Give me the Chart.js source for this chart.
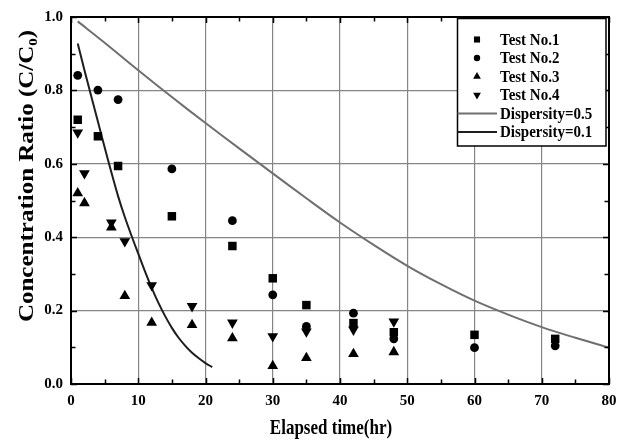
<!DOCTYPE html>
<html>
<head>
<meta charset="utf-8">
<script src="https://cdn.jsdelivr.net/npm/chart.js@4/dist/chart.umd.min.js"></script>
<style>
  html, body { margin: 0; padding: 0; background: #fff; }
  #wrap { width: 625px; height: 444px; position: relative; }
</style>
</head>
<body>
<div id="wrap"><canvas id="c"></canvas></div>
<script>
// Sampling times (hr) of the column tests
const hoursA = [1, 4, 7, 15, 24, 30, 35, 42, 48, 60, 72];
const hoursB = [1, 2, 6, 8, 12, 18, 24, 30, 35, 42, 48];

// Measured concentration ratios C/C0
const test1 = [0.720, 0.675, 0.594, 0.457, 0.376, 0.288, 0.215, 0.166, 0.141, 0.134, 0.123];
const test2 = [0.841, 0.801, 0.775, 0.586, 0.445, 0.243, 0.157, 0.193, 0.123, 0.099, 0.104];
const test3 = [0.520, 0.493, 0.427, 0.240, 0.167, 0.161, 0.125, 0.049, 0.071, 0.082, 0.087];
const test4 = [0.685, 0.574, 0.440, 0.389, 0.269, 0.212, 0.167, 0.130, 0.143, 0.148, 0.170];

// Model curves for two dispersity values
const hoursD05 = [1, 5, 10, 15, 20, 25, 30, 35, 40, 45, 50, 55, 60, 65, 70, 75, 80];
const disp05   = [0.988, 0.930, 0.855, 0.782, 0.711, 0.642, 0.574, 0.506, 0.440, 0.379, 0.322, 0.272, 0.227, 0.189, 0.155, 0.126, 0.099];
const hoursD01 = [1, 2, 3, 4, 5, 6, 7, 8, 9, 10, 11, 12, 13, 14, 15, 16, 17, 18, 19, 20, 21];
const disp01   = [0.928, 0.855, 0.785, 0.715, 0.645, 0.577, 0.512, 0.455, 0.404, 0.355, 0.307, 0.262, 0.221, 0.185, 0.153, 0.126, 0.104, 0.085, 0.070, 0.057, 0.046];

// Axis ranges and tick steps
const xRange = [0, 80], xMajor = 10, xMinor = 5;
const yRange = [0, 1.0], yMajor = 0.2, yMinor = 0.1;

const SERIF = "'Liberation Serif', 'Times New Roman', serif";
const toXY = (xs, ys) => xs.map((x, i) => ({ x, y: ys[i] }));

const pointSet = (label, xs, ys, style, radius, rotation) => ({
  label, data: toXY(xs, ys), showLine: false,
  pointStyle: style, pointRadius: radius, pointHoverRadius: radius,
  pointRotation: rotation || 0,
  backgroundColor: '#000', borderColor: '#000', borderWidth: 0
});
const curveSet = (label, xs, ys, color) => ({
  label, data: toXY(xs, ys), showLine: true, pointRadius: 0,
  borderColor: color, backgroundColor: color, borderWidth: 2,
  tension: 0.35, fill: false
});

const datasets = [
  pointSet('Test No.1', hoursA, test1, 'rect', 6.0),
  pointSet('Test No.2', hoursA, test2, 'circle', 4.4),
  pointSet('Test No.3', hoursB, test3, 'triangle', 6.2),
  pointSet('Test No.4', hoursB, test4, 'triangle', 6.2, 180),
  curveSet('Dispersity=0.5', hoursD05, disp05, '#6f6f6f'),
  curveSet('Dispersity=0.1', hoursD01, disp01, '#1e1e1e')
];

// Inward major/minor ticks on all four sides plus the closed frame
const framePlugin = {
  id: 'frameTicks',
  afterDatasetsDraw(chart) {
    const { ctx, chartArea: a, scales: { x, y } } = chart;
    ctx.save();
    ctx.strokeStyle = '#000';
    ctx.lineWidth = 1.5;
    ctx.beginPath();
    for (let v = xRange[0]; v <= xRange[1] + 1e-9; v += xMinor) {
      const major = Math.abs(v / xMajor - Math.round(v / xMajor)) < 1e-6;
      const len = major ? 6 : 4.5;
      const px = Math.round(x.getPixelForValue(v)) + 0.5;
      ctx.moveTo(px, a.bottom); ctx.lineTo(px, a.bottom - len);
      ctx.moveTo(px, a.top); ctx.lineTo(px, a.top + len);
    }
    for (let v = yRange[0]; v <= yRange[1] + 1e-9; v += yMinor) {
      const major = Math.abs(v / yMajor - Math.round(v / yMajor)) < 1e-6;
      const len = major ? 6 : 4.5;
      const py = Math.round(y.getPixelForValue(v)) + 0.5;
      ctx.moveTo(a.left, py); ctx.lineTo(a.left + len, py);
      ctx.moveTo(a.right, py); ctx.lineTo(a.right - len, py);
    }
    ctx.stroke();
    ctx.lineWidth = 2;
    ctx.strokeRect(a.left, a.top, a.right - a.left, a.bottom - a.top);
    ctx.restore();
  }
};

function stretchedText(ctx, text, x, y, sx, sy) {
  ctx.save();
  ctx.translate(x, y);
  ctx.scale(sx, sy);
  ctx.fillText(text, 0, 0);
  ctx.restore();
}

// Axis titles (with the subscript in C/C0)
const titlePlugin = {
  id: 'axisTitles',
  afterDraw(chart) {
    const { ctx } = chart;
    ctx.save();
    ctx.fillStyle = '#000';
    ctx.textBaseline = 'alphabetic';
    ctx.textAlign = 'center';
    ctx.font = `bold 17px ${SERIF}`;
    stretchedText(ctx, 'Elapsed time(hr)', 331, 434, 1, 1.22);

    // vertical title
    const main = 'Concentration Ratio (C/C', sub = '0', tail = ')';
    const mainFont = `bold 20px ${SERIF}`, subFont = `bold 12px ${SERIF}`;
    ctx.font = mainFont; const wMain = ctx.measureText(main).width, wTail = ctx.measureText(tail).width;
    ctx.font = subFont; const wSub = ctx.measureText(sub).width;
    const sx = 1.25;
    const total = (wMain + wSub + wTail) * sx;
    ctx.translate(33, 176);
    ctx.rotate(-Math.PI / 2);
    ctx.scale(sx, 1);
    ctx.textAlign = 'left';
    let start = -total / sx / 2;
    ctx.font = mainFont; ctx.fillText(main, start, 0);
    ctx.font = subFont; ctx.fillText(sub, start + wMain, 4);
    ctx.font = mainFont; ctx.fillText(tail, start + wMain + wSub, 0);
    ctx.restore();
  }
};

function marker(ctx, style, r, rot, x, y) {
  ctx.beginPath();
  if (style === 'rect') {
    const s = r * Math.SQRT1_2;
    ctx.rect(x - s, y - s, 2 * s, 2 * s);
  } else if (style === 'circle') {
    ctx.arc(x, y, r, 0, Math.PI * 2);
  } else {
    const a0 = rot * Math.PI / 180;
    for (let k = 0; k < 3; k++) {
      const a = a0 + k * 2 * Math.PI / 3;
      const px = x + Math.sin(a) * r, py = y - Math.cos(a) * r;
      k ? ctx.lineTo(px, py) : ctx.moveTo(px, py);
    }
    ctx.closePath();
  }
  ctx.fill();
}

// Boxed legend inside the plot, upper right
const legendPlugin = {
  id: 'boxLegend',
  afterDraw(chart) {
    const { ctx } = chart;
    const box = { l: 457.5, t: 18.5, r: 606, b: 146 };
    const rows = [39.5, 58, 76.5, 95, 113.5, 132];
    ctx.save();
    ctx.fillStyle = '#fff';
    ctx.fillRect(box.l, box.t, box.r - box.l, box.b - box.t);
    ctx.strokeStyle = '#000';
    ctx.lineWidth = 1.5;
    ctx.strokeRect(box.l, box.t, box.r - box.l, box.b - box.t);
    chart.data.datasets.forEach((ds, i) => {
      const yy = rows[i];
      if (ds.showLine) {
        ctx.strokeStyle = ds.borderColor;
        ctx.lineWidth = 2;
        ctx.beginPath(); ctx.moveTo(box.l, yy); ctx.lineTo(497, yy); ctx.stroke();
      } else {
        ctx.fillStyle = '#000';
        marker(ctx, ds.pointStyle, ds.pointRadius * 0.72, ds.pointRotation, 477, yy);
      }
      ctx.fillStyle = '#000';
      ctx.font = `bold 15px ${SERIF}`;
      ctx.textAlign = 'left';
      ctx.textBaseline = 'middle';
      stretchedText(ctx, ds.label, 500, yy + 1, 1, 1.1);
    });
    ctx.restore();
  }
};

new Chart(document.getElementById('c'), {
  type: 'scatter',
  data: { datasets },
  options: {
    responsive: true,
    maintainAspectRatio: false,
    animation: false,
    events: [],
    layout: { padding: { left: 0, right: 16, top: 14, bottom: 0 } },
    plugins: { legend: { display: false }, tooltip: { enabled: false } },
    scales: {
      x: {
        type: 'linear', min: xRange[0], max: xRange[1],
        afterFit: s => { s.height = 60; },
        ticks: {
          stepSize: xMajor, padding: 8, color: '#000',
          font: { family: SERIF, size: 15, weight: 'bold' },
          callback: v => String(v)
        },
        grid: { color: '#858585', lineWidth: 1.2, drawTicks: false },
        border: { display: false }
      },
      y: {
        type: 'linear', min: yRange[0], max: yRange[1],
        afterFit: s => { s.width = 71; },
        ticks: {
          stepSize: yMajor, padding: 8, color: '#000',
          font: { family: SERIF, size: 15, weight: 'bold' },
          callback: v => Number(v).toFixed(1)
        },
        grid: { color: '#858585', lineWidth: 1.2, drawTicks: false },
        border: { display: false }
      }
    }
  },
  plugins: [framePlugin, titlePlugin, legendPlugin]
});
</script>
</body>
</html>
